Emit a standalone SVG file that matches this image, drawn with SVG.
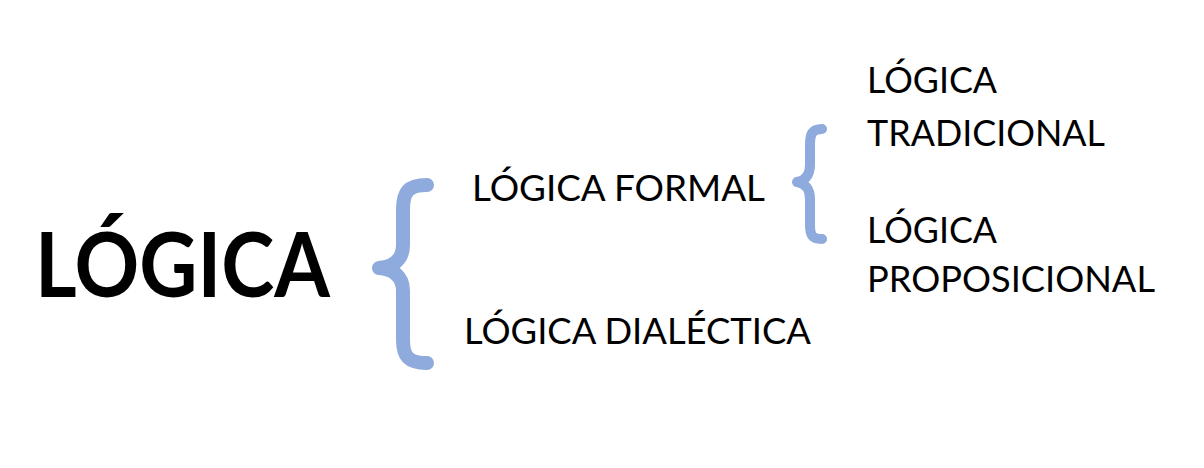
<svg xmlns="http://www.w3.org/2000/svg" width="1204" height="468" viewBox="0 0 1204 468">
<style>
text{font-family:Lato,"Open Sans","Liberation Sans",sans-serif;fill:#000}
.t{font-size:36px}
.big{font-size:90px;font-weight:bold}
.br{fill:none;stroke:#8FAADC;stroke-linecap:round;stroke-linejoin:round}
</style>
<rect width="1204" height="468" fill="#fff"/>
<g id="connectors">
<path class="br" stroke-width="14" d="M427,185 C408,185 403,192 403,210 L403,245 C403,260 393,267 379,268 C393,269 403,276 403,291 L403,340 C403,356 408,363 427,363"/>
<path class="br" stroke-width="10" d="M822,129 C812,129 810,134 810,145 L810,165 C810,175 805,181 797,182 C805,183 810,189 810,199 L810,225 C810,235 812,239 822,239"/>
</g>
<g id="n-logica"><text class="big" x="35" y="297" textLength="295" lengthAdjust="spacingAndGlyphs">LÓGICA</text></g>
<g id="n-formal"><text class="t" x="472" y="201" textLength="293" lengthAdjust="spacingAndGlyphs">LÓGICA FORMAL</text></g>
<g id="n-dialectica"><text class="t" x="464" y="344" textLength="347" lengthAdjust="spacingAndGlyphs">LÓGICA DIALÉCTICA</text></g>
<g id="n-tradicional"><text class="t" x="867" y="93" textLength="130" lengthAdjust="spacingAndGlyphs">LÓGICA</text><text class="t" x="867" y="146" textLength="238" lengthAdjust="spacingAndGlyphs">TRADICIONAL</text></g>
<g id="n-proposicional"><text class="t" x="867" y="243" textLength="130" lengthAdjust="spacingAndGlyphs">LÓGICA</text><text class="t" x="867" y="292" textLength="288" lengthAdjust="spacingAndGlyphs">PROPOSICIONAL</text></g>
</svg>
